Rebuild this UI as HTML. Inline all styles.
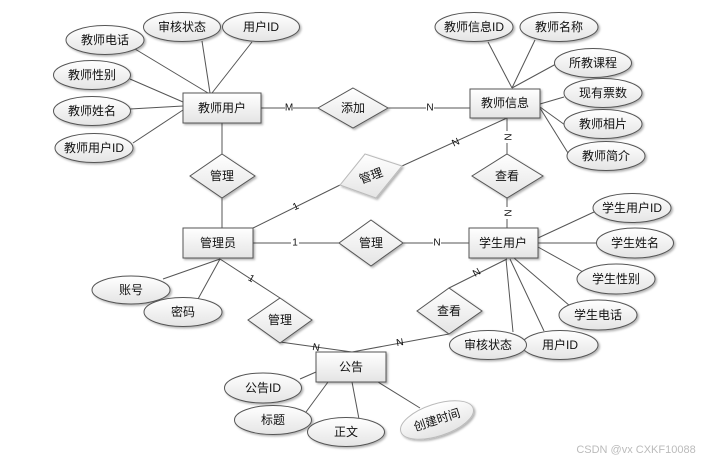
<!DOCTYPE html>
<html><head><meta charset="utf-8"><style>
html,body{margin:0;padding:0;background:#fff;}
svg{display:block;}
text{font-family:"Liberation Sans","Noto Sans CJK SC",sans-serif;font-size:12px;fill:#111;text-anchor:middle;dominant-baseline:central;}
</style></head><body>
<svg width="719" height="464" viewBox="0 0 719 464" xmlns="http://www.w3.org/2000/svg">
<defs>
<linearGradient id="g" x1="0" y1="0" x2="0" y2="1"><stop offset="0" stop-color="#ffffff"/><stop offset="1" stop-color="#e4e4e4"/></linearGradient>
<filter id="s" x="-20%" y="-20%" width="150%" height="160%"><feDropShadow dx="1.5" dy="1.5" stdDeviation="1" flood-color="#000" flood-opacity="0.3"/></filter>
</defs>
<g stroke="#555" stroke-width="1" fill="none">
<!-- teacher user attrs -->
<line x1="135" y1="49" x2="208" y2="93"/><line x1="202" y1="41" x2="210" y2="93"/><line x1="252" y1="42" x2="212" y2="93"/>
<line x1="130" y1="79" x2="183" y2="102"/><line x1="130" y1="109" x2="183" y2="106"/><line x1="133" y1="143" x2="183" y2="110"/>
<line x1="261" y1="108" x2="318" y2="108"/><line x1="388" y1="108" x2="470" y2="108"/>
<line x1="222" y1="123" x2="222" y2="228"/>
<line x1="253" y1="228" x2="340" y2="185"/><line x1="402" y1="166" x2="507" y2="118"/>
<!-- teacher info attrs -->
<line x1="512" y1="88" x2="488" y2="42"/><line x1="512" y1="88" x2="535" y2="40"/><line x1="512" y1="88" x2="556" y2="64"/>
<line x1="540" y1="104" x2="564" y2="97"/><line x1="540" y1="107" x2="565" y2="125"/><line x1="540" y1="108" x2="568" y2="153"/>
<line x1="507" y1="118" x2="507" y2="228"/>
<!-- middle -->
<line x1="253" y1="243" x2="469" y2="243"/>
<!-- student -->
<line x1="538" y1="238" x2="594" y2="212"/><line x1="538" y1="243" x2="596" y2="243"/><line x1="538" y1="247" x2="583" y2="272"/>
<line x1="514" y1="258" x2="570" y2="306"/><line x1="510" y1="259" x2="544" y2="331"/><line x1="506" y1="259" x2="513" y2="332"/>
<line x1="507" y1="259" x2="449" y2="288"/><line x1="449" y1="334" x2="352" y2="352"/><line x1="280" y1="342" x2="352" y2="352"/>
<!-- admin -->
<line x1="220" y1="259" x2="163" y2="279"/><line x1="220" y1="259" x2="198" y2="299"/><line x1="220" y1="259" x2="280" y2="298"/>
<!-- notice -->
<line x1="316" y1="372" x2="300" y2="379"/><line x1="328" y1="382" x2="306" y2="412"/><line x1="352" y1="382" x2="359" y2="419"/><line x1="378" y1="382" x2="420" y2="408"/>
</g>
<!-- cardinality labels -->
<g style="font-size:10px">
<rect x="285" y="102" width="8" height="12" fill="#fff"/><text x="289" y="108" style="font-size:10px">M</text>
<rect x="426" y="102" width="8" height="12" fill="#fff"/><text x="430" y="108" style="font-size:10px">N</text>
<text x="456" y="143" style="font-size:10px" transform="rotate(-25 456 143)">N</text>
<text x="296" y="207" style="font-size:10px" transform="rotate(-25 296 207)">1</text>
<rect x="502" y="131" width="10" height="12" fill="#fff"/><text x="507" y="137" style="font-size:10px" transform="rotate(90 507 137)">N</text>
<rect x="502" y="207" width="10" height="12" fill="#fff"/><text x="507" y="213" style="font-size:10px" transform="rotate(90 507 213)">N</text>
<rect x="291" y="237" width="8" height="12" fill="#fff"/><text x="295" y="243" style="font-size:10px">1</text>
<rect x="433" y="237" width="8" height="12" fill="#fff"/><text x="437" y="243" style="font-size:10px">N</text>
<text x="477" y="273" style="font-size:10px" transform="rotate(-30 477 273)">N</text>
<text x="251" y="279" style="font-size:10px" transform="rotate(30 251 279)">1</text>
<text x="316" y="348" style="font-size:10px" transform="rotate(10 316 348)">N</text>
<text x="400" y="343" style="font-size:10px" transform="rotate(-10 400 343)">N</text>
</g>
<g stroke="#555" fill="url(#g)" filter="url(#s)">
<!-- entities -->
<rect x="183" y="93" width="78" height="30"/>
<rect x="470" y="89" width="70" height="29"/>
<rect x="183" y="228" width="70" height="30"/>
<rect x="469" y="228" width="69" height="30"/>
<rect x="316" y="352" width="70" height="30"/>
<!-- diamonds -->
<polygon points="353,88 388,108 353,128 318,108"/>
<polygon points="222,154 255,176 222,198 190,176"/>
<polygon points="507,154 543,176 507,198 472,176"/>
<polygon points="371,220 403,243 371,266 339,243"/>
<polygon points="280,298 312,320 280,343 248,320"/>
<polygon points="449,288 482,311 449,334 417,311"/>
<polygon points="365,154 402,166 376,198 340,185" stroke="#bbb"/>
<!-- ellipses -->
<ellipse cx="182" cy="27" rx="38.5" ry="14.5"/>
<ellipse cx="261" cy="27" rx="38.5" ry="14.5"/>
<ellipse cx="105" cy="40" rx="39" ry="14.5"/>
<ellipse cx="92" cy="75" rx="38.5" ry="14.5"/>
<ellipse cx="92" cy="111" rx="38.5" ry="14.5"/>
<ellipse cx="94" cy="148" rx="39" ry="14.5"/>
<ellipse cx="474" cy="27" rx="39" ry="14.5"/>
<ellipse cx="559" cy="27" rx="39" ry="14.5"/>
<ellipse cx="593" cy="63" rx="38.5" ry="14.5"/>
<ellipse cx="603" cy="93" rx="39" ry="14.5"/>
<ellipse cx="603" cy="124" rx="39" ry="14.5"/>
<ellipse cx="606" cy="156" rx="39" ry="14.5"/>
<ellipse cx="632" cy="208" rx="39" ry="14.5"/>
<ellipse cx="635" cy="243" rx="38.5" ry="15"/>
<ellipse cx="616" cy="279" rx="39" ry="15"/>
<ellipse cx="598" cy="315" rx="39" ry="15"/>
<ellipse cx="560" cy="345" rx="38" ry="14.5"/>
<ellipse cx="488" cy="345" rx="38.5" ry="14.5"/>
<ellipse cx="131" cy="290" rx="39" ry="14"/>
<ellipse cx="183" cy="312" rx="39" ry="14.5"/>
<ellipse cx="263" cy="388" rx="38.5" ry="15"/>
<ellipse cx="273" cy="420" rx="38.5" ry="14.5"/>
<ellipse cx="346" cy="432" rx="38.5" ry="14.5"/>
<ellipse cx="437" cy="420" rx="38" ry="16" transform="rotate(-18 437 420)" stroke="#bbb"/>
</g>
<g>
<text x="222" y="108">教师用户</text>
<text x="505" y="103">教师信息</text>
<text x="218" y="243">管理员</text>
<text x="503" y="243">学生用户</text>
<text x="351" y="367">公告</text>
<text x="353" y="108">添加</text>
<text x="222" y="176">管理</text>
<text x="507" y="176">查看</text>
<text x="371" y="243">管理</text>
<text x="280" y="320">管理</text>
<text x="449" y="311">查看</text>
<text x="371" y="176" fill="#555" transform="rotate(-20 371 176)">管理</text>
<text x="182" y="27">审核状态</text>
<text x="261" y="27">用户ID</text>
<text x="105" y="40">教师电话</text>
<text x="92" y="75">教师性别</text>
<text x="92" y="111">教师姓名</text>
<text x="94" y="148">教师用户ID</text>
<text x="474" y="27">教师信息ID</text>
<text x="559" y="27">教师名称</text>
<text x="593" y="63">所教课程</text>
<text x="603" y="93">现有票数</text>
<text x="603" y="124">教师相片</text>
<text x="606" y="156">教师简介</text>
<text x="632" y="208">学生用户ID</text>
<text x="635" y="243">学生姓名</text>
<text x="616" y="279">学生性别</text>
<text x="598" y="315">学生电话</text>
<text x="560" y="345">用户ID</text>
<text x="488" y="345">审核状态</text>
<text x="131" y="290">账号</text>
<text x="183" y="312">密码</text>
<text x="263" y="388">公告ID</text>
<text x="273" y="420">标题</text>
<text x="346" y="432">正文</text>
<text x="437" y="420" fill="#444" transform="rotate(-18 437 420)">创建时间</text>
<text x="636" y="450" style="font-size:11px;fill:#bbb">CSDN @vx  CXKF10088</text>
</g>
</svg>
</body></html>
